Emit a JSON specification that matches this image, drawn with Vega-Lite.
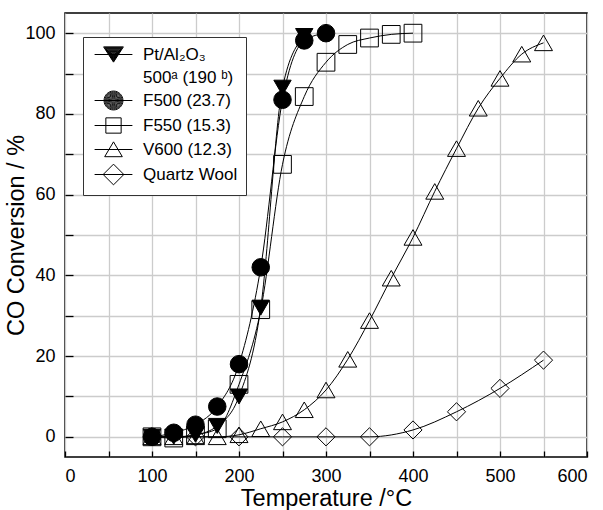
{
  "$schema": "https://vega.github.io/schema/vega-lite/v6.json",
  "autosize": {"type": "none"},
  "padding": {"left": 65, "top": 13, "right": 16, "bottom": 53},
  "width": 522,
  "height": 444,
  "background": "white",
  "config": {
    "font": "Liberation Sans",
    "view": {"stroke": "black", "strokeWidth": 1.5},
    "axis": {
      "domain": false,
      "grid": true,
      "gridColor": "#cccccc",
      "gridWidth": 1.3,
      "tickColor": "black",
      "tickWidth": 1.3,
      "labelColor": "black",
      "titleColor": "black",
      "labelFont": "Liberation Sans",
      "titleFont": "Liberation Sans",
      "labelFontSize": 18,
      "titleFontSize": 23.5,
      "titleFontWeight": "normal"
    }
  },
  "data": {
    "values": [
      {"series": "Quartz Wool", "T": 100, "conv": 0},
      {"series": "Quartz Wool", "T": 150, "conv": 0},
      {"series": "Quartz Wool", "T": 200, "conv": 0},
      {"series": "Quartz Wool", "T": 250, "conv": 0},
      {"series": "Quartz Wool", "T": 300, "conv": 0},
      {"series": "Quartz Wool", "T": 350, "conv": 0},
      {"series": "Quartz Wool", "T": 400, "conv": 1.7},
      {"series": "Quartz Wool", "T": 450, "conv": 6.2},
      {"series": "Quartz Wool", "T": 500, "conv": 12},
      {"series": "Quartz Wool", "T": 550, "conv": 19},
      {"series": "V600 (12.3)", "T": 100, "conv": 0},
      {"series": "V600 (12.3)", "T": 125, "conv": 0},
      {"series": "V600 (12.3)", "T": 150, "conv": 0},
      {"series": "V600 (12.3)", "T": 175, "conv": 0},
      {"series": "V600 (12.3)", "T": 200, "conv": 0.5},
      {"series": "V600 (12.3)", "T": 225, "conv": 2},
      {"series": "V600 (12.3)", "T": 250, "conv": 3.7},
      {"series": "V600 (12.3)", "T": 275, "conv": 6.7},
      {"series": "V600 (12.3)", "T": 300, "conv": 11.6},
      {"series": "V600 (12.3)", "T": 325, "conv": 19.2},
      {"series": "V600 (12.3)", "T": 350, "conv": 28.8},
      {"series": "V600 (12.3)", "T": 375, "conv": 39.3},
      {"series": "V600 (12.3)", "T": 400, "conv": 49.4},
      {"series": "V600 (12.3)", "T": 425, "conv": 60.8},
      {"series": "V600 (12.3)", "T": 450, "conv": 71.4},
      {"series": "V600 (12.3)", "T": 475, "conv": 81.4},
      {"series": "V600 (12.3)", "T": 500, "conv": 88.8},
      {"series": "V600 (12.3)", "T": 525, "conv": 94.8},
      {"series": "V600 (12.3)", "T": 550, "conv": 97.6},
      {"series": "F550 (15.3)", "T": 100, "conv": 0},
      {"series": "F550 (15.3)", "T": 125, "conv": -0.3},
      {"series": "F550 (15.3)", "T": 150, "conv": 0.5},
      {"series": "F550 (15.3)", "T": 175, "conv": 2},
      {"series": "F550 (15.3)", "T": 200, "conv": 13},
      {"series": "F550 (15.3)", "T": 225, "conv": 31.5},
      {"series": "F550 (15.3)", "T": 250, "conv": 67.5},
      {"series": "F550 (15.3)", "T": 275, "conv": 84.3},
      {"series": "F550 (15.3)", "T": 300, "conv": 92.8},
      {"series": "F550 (15.3)", "T": 325, "conv": 97.2},
      {"series": "F550 (15.3)", "T": 350, "conv": 98.8},
      {"series": "F550 (15.3)", "T": 375, "conv": 99.7},
      {"series": "F550 (15.3)", "T": 400, "conv": 100},
      {"series": "F500 (23.7)", "T": 100, "conv": 0},
      {"series": "F500 (23.7)", "T": 125, "conv": 1},
      {"series": "F500 (23.7)", "T": 150, "conv": 3},
      {"series": "F500 (23.7)", "T": 175, "conv": 7.5},
      {"series": "F500 (23.7)", "T": 200, "conv": 18},
      {"series": "F500 (23.7)", "T": 225, "conv": 42},
      {"series": "F500 (23.7)", "T": 250, "conv": 83.5},
      {"series": "F500 (23.7)", "T": 275, "conv": 98.2},
      {"series": "F500 (23.7)", "T": 300, "conv": 100},
      {"series": "Pt/Al₂O₃", "T": 100, "conv": 0},
      {"series": "Pt/Al₂O₃", "T": 125, "conv": 0},
      {"series": "Pt/Al₂O₃", "T": 150, "conv": 0.5},
      {"series": "Pt/Al₂O₃", "T": 175, "conv": 2.7},
      {"series": "Pt/Al₂O₃", "T": 200, "conv": 10},
      {"series": "Pt/Al₂O₃", "T": 225, "conv": 32},
      {"series": "Pt/Al₂O₃", "T": 250, "conv": 86.5},
      {"series": "Pt/Al₂O₃", "T": 275, "conv": 99.3}
    ]
  },
  "encoding": {
    "x": {
      "field": "T",
      "type": "quantitative",
      "scale": {"domain": [0, 600], "nice": false, "zero": false},
      "axis": {
        "title": "Temperature /°C",
        "values": [0, 50, 100, 150, 200, 250, 300, 350, 400, 450, 500, 550, 600],
        "labelExpr": "datum.value % 100 === 0 ? datum.label : ''",
        "tickSize": -6,
        "labelPadding": 16,
        "titlePadding": 1
      }
    },
    "y": {
      "field": "conv",
      "type": "quantitative",
      "scale": {"domain": [-5, 105], "nice": false, "zero": false},
      "axis": {
        "title": "CO Conversion / %",
        "values": [0, 10, 20, 30, 40, 50, 60, 70, 80, 90, 100],
        "labelExpr": "datum.value % 20 === 0 ? datum.label : ''",
        "tickSize": -8,
        "labelPadding": 18,
        "titlePadding": -4
      }
    }
  },
  "layer": [
    {
      "mark": {"type": "line", "interpolate": "monotone", "color": "black", "strokeWidth": 1},
      "encoding": {"detail": {"field": "series"}}
    },
    {
      "mark": {"type": "point", "filled": true, "stroke": "black", "strokeWidth": 1, "opacity": 1},
      "encoding": {
        "shape": {
          "field": "series",
          "type": "nominal",
          "scale": {
            "domain": ["Pt/Al₂O₃", "F500 (23.7)", "F550 (15.3)", "V600 (12.3)", "Quartz Wool"],
            "range": ["triangle-down", "circle", "square", "triangle-up", "diamond"]
          },
          "legend": null
        },
        "fill": {
          "field": "series",
          "type": "nominal",
          "scale": {
            "domain": ["Pt/Al₂O₃", "F500 (23.7)", "F550 (15.3)", "V600 (12.3)", "Quartz Wool"],
            "range": ["black", "black", "transparent", "transparent", "transparent"]
          },
          "legend": null
        },
        "size": {
          "field": "series",
          "type": "nominal",
          "scale": {
            "domain": ["Pt/Al₂O₃", "F500 (23.7)", "F550 (15.3)", "V600 (12.3)", "Quartz Wool"],
            "range": [300, 330, 256, 300, 400]
          },
          "legend": null
        }
      }
    },
    {
      "transform": [{"filter": "datum.T < 0"}],
      "mark": {"type": "point", "filled": false, "color": "black", "strokeWidth": 1, "opacity": 1},
      "encoding": {
        "shape": {
          "field": "series",
          "type": "nominal",
          "scale": {
            "domain": ["Pt/Al₂O₃", "500ᵃ  (190 ᵇ)", "F500 (23.7)", "F550 (15.3)", "V600 (12.3)", "Quartz Wool"],
            "range": [
              "M-2.1,0H2.1M-1.1,-0.85L1.1,-0.85L0,0.85ZM-0.99,-0.765L0.99,-0.765L0,0.765ZM-0.88,-0.68L0.88,-0.68L0,0.68ZM-0.77,-0.595L0.77,-0.595L0,0.595ZM-0.66,-0.51L0.66,-0.51L0,0.51ZM-0.55,-0.425L0.55,-0.425L0,0.425ZM-0.44,-0.34L0.44,-0.34L0,0.34ZM-0.33,-0.255L0.33,-0.255L0,0.255ZM-0.22,-0.17L0.22,-0.17L0,0.17ZM-0.11,-0.085L0.11,-0.085L0,0.085Z",
              "M0,0",
              "M-2.1,0H2.1M-1.05,0A1.05,1.05 0 1,0 1.05,0A1.05,1.05 0 1,0 -1.05,0ZM-0.95,0A0.95,0.95 0 1,0 0.95,0A0.95,0.95 0 1,0 -0.95,0ZM-0.85,0A0.85,0.85 0 1,0 0.85,0A0.85,0.85 0 1,0 -0.85,0ZM-0.75,0A0.75,0.75 0 1,0 0.75,0A0.75,0.75 0 1,0 -0.75,0ZM-0.65,0A0.65,0.65 0 1,0 0.65,0A0.65,0.65 0 1,0 -0.65,0ZM-0.55,0A0.55,0.55 0 1,0 0.55,0A0.55,0.55 0 1,0 -0.55,0ZM-0.45,0A0.45,0.45 0 1,0 0.45,0A0.45,0.45 0 1,0 -0.45,0ZM-0.35,0A0.35,0.35 0 1,0 0.35,0A0.35,0.35 0 1,0 -0.35,0ZM-0.25,0A0.25,0.25 0 1,0 0.25,0A0.25,0.25 0 1,0 -0.25,0ZM-0.15,0A0.15,0.15 0 1,0 0.15,0A0.15,0.15 0 1,0 -0.15,0ZM-0.05,0A0.05,0.05 0 1,0 0.05,0A0.05,0.05 0 1,0 -0.05,0Z",
              "M-2.1,0H2.1M-0.85,-0.85H0.85V0.85H-0.85Z",
              "M-2.1,0H2.1M0,-0.85L0.98,0.8L-0.98,0.8Z",
              "M-2.1,0H2.1M-1.15,0L0,-1.15L1.15,0L0,1.15Z"
            ]
          },
          "legend": {
            "title": null,
            "orient": "none",
            "legendX": 18,
            "legendY": 24,
            "padding": 8,
            "fillColor": "white",
            "strokeColor": "#333333",
            "symbolSize": 324,
            "symbolOffset": 13,
            "symbolStrokeColor": "black",
            "symbolStrokeWidth": 1,
            "labelOffset": 20,
            "labelFont": "Liberation Sans",
            "labelFontSize": 17,
            "labelColor": "black",
            "labelLimit": 300,
            "rowPadding": 3,
            "encode": {
              "symbols": {
                "update": {
                  "stroke": {"value": "black"},
                  "strokeWidth": {"value": 1.2},
                  "strokeOpacity": {"value": 1},
                  "opacity": {"value": 1}
                }
              }
            }
          }
        }
      }
    }
  ],
  "resolve": {
    "scale": {"shape": "independent", "fill": "independent", "size": "independent"},
    "legend": {"shape": "independent", "fill": "independent"}
  }
}
